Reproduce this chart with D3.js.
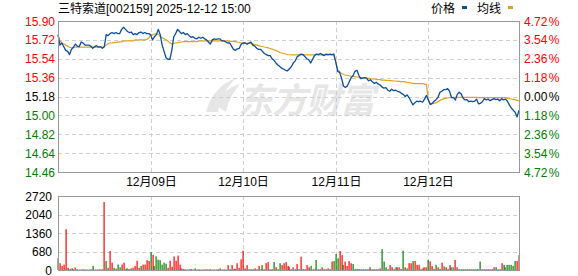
<!DOCTYPE html>
<html>
<head>
<meta charset="utf-8">
<script src="https://cdn.jsdelivr.net/npm/d3@7"></script>
<style>
  html, body { margin: 0; padding: 0; background: #fff; }
  svg { display: block; }
</style>
</head>
<body>
<div id="chart"></div>
<script>
// 三特索道 五日分时图：价格 + 均线 + 成交量
const TITLE = "三特索道[002159] 2025-12-12 15:00";
const DAYS = ["12月08日", "12月09日", "12月10日", "12月11日", "12月12日"];
const PRE_CLOSE = 15.18;
const PRICE_TICKS = [15.90, 15.72, 15.54, 15.36, 15.18, 15.00, 14.82, 14.64, 14.46];
const PCT_TICKS = ["4.72", "3.54", "2.36", "1.18", "0.00", "1.18", "2.36", "3.54", "4.72"];
const VOL_TICKS = [2720, 2040, 1360, 680, 0];

// 每日 48 个采样点（约 5 分钟一个）
const PRICE_1208 = [15.77,15.67,15.69,15.655,15.62,15.61,15.58,15.63,15.65,15.68,15.66,15.655,15.70,15.69,15.67,15.67,15.67,15.66,15.64,15.655,15.665,15.65,15.655,15.64,15.655,15.77,15.76,15.78,15.79,15.78,15.79,15.78,15.78,15.82,15.84,15.82,15.80,15.79,15.795,15.77,15.78,15.77,15.79,15.795,15.78,15.79,15.78,15.78];
const PRICE_1209 = [15.77,15.72,15.75,15.77,15.82,15.77,15.67,15.61,15.55,15.535,15.535,15.62,15.75,15.78,15.82,15.80,15.78,15.79,15.77,15.78,15.76,15.745,15.75,15.735,15.73,15.745,15.735,15.745,15.73,15.72,15.70,15.68,15.72,15.73,15.725,15.73,15.73,15.71,15.71,15.70,15.69,15.69,15.66,15.63,15.62,15.635,15.64,15.68];
const PRICE_1210 = [15.69,15.69,15.68,15.69,15.70,15.67,15.66,15.64,15.63,15.63,15.61,15.59,15.58,15.57,15.57,15.54,15.525,15.50,15.48,15.465,15.45,15.44,15.43,15.425,15.445,15.465,15.50,15.52,15.56,15.57,15.585,15.58,15.56,15.54,15.53,15.50,15.535,15.57,15.585,15.58,15.59,15.58,15.57,15.585,15.58,15.585,15.58,15.585];
const PRICE_1211 = [15.51,15.42,15.41,15.355,15.28,15.265,15.28,15.32,15.36,15.38,15.42,15.43,15.38,15.35,15.355,15.36,15.355,15.33,15.34,15.32,15.305,15.315,15.30,15.29,15.27,15.26,15.265,15.24,15.23,15.25,15.235,15.24,15.23,15.225,15.21,15.20,15.18,15.195,15.17,15.135,15.10,15.12,15.135,15.13,15.135,15.125,15.155,15.19];
const PRICE_1212 = [15.147,15.105,15.115,15.135,15.15,15.17,15.22,15.23,15.245,15.245,15.255,15.23,15.17,15.17,15.147,15.20,15.22,15.205,15.165,15.147,15.15,15.13,15.135,15.13,15.135,15.155,15.11,15.115,15.13,15.16,15.147,15.155,15.14,15.15,15.16,15.15,15.155,15.14,15.16,15.147,15.155,15.135,15.10,15.07,15.05,15.03,14.985,15.05];

const AVG_1208 = [15.77,15.71,15.69,15.68,15.67,15.66,15.65,15.645,15.645,15.65,15.65,15.65,15.65,15.65,15.65,15.65,15.65,15.65,15.65,15.65,15.65,15.65,15.652,15.652,15.655,15.67,15.685,15.69,15.692,15.694,15.696,15.698,15.70,15.70,15.71,15.71,15.71,15.71,15.71,15.71,15.72,15.72,15.72,15.72,15.72,15.72,15.725,15.735];
const AVG_1209 = [15.77,15.766,15.776,15.78,15.776,15.75,15.74,15.73,15.72,15.706,15.693,15.68,15.687,15.69,15.693,15.697,15.70,15.703,15.703,15.703,15.703,15.703,15.703,15.703,15.703,15.71,15.71,15.71,15.71,15.71,15.71,15.71,15.71,15.71,15.71,15.71,15.71,15.71,15.71,15.71,15.71,15.705,15.705,15.705,15.703,15.70,15.695,15.69];
const AVG_1210 = [15.69,15.69,15.69,15.688,15.685,15.68,15.675,15.67,15.665,15.66,15.657,15.652,15.648,15.643,15.638,15.632,15.625,15.62,15.61,15.60,15.595,15.59,15.585,15.58,15.578,15.577,15.577,15.577,15.577,15.577,15.577,15.577,15.577,15.577,15.577,15.577,15.577,15.577,15.577,15.577,15.577,15.577,15.577,15.577,15.577,15.577,15.577,15.577];
const AVG_1211 = [15.51,15.433,15.417,15.40,15.39,15.385,15.382,15.378,15.375,15.373,15.369,15.366,15.363,15.36,15.36,15.357,15.353,15.353,15.35,15.347,15.347,15.344,15.341,15.341,15.337,15.337,15.334,15.334,15.331,15.331,15.328,15.328,15.325,15.325,15.322,15.322,15.319,15.315,15.312,15.309,15.306,15.303,15.303,15.303,15.303,15.303,15.298,15.296];
const AVG_1212 = [15.147,15.105,15.112,15.115,15.121,15.131,15.143,15.15,15.159,15.162,15.166,15.169,15.172,15.172,15.172,15.172,15.172,15.172,15.172,15.172,15.172,15.172,15.172,15.172,15.172,15.172,15.17,15.17,15.17,15.17,15.17,15.17,15.17,15.169,15.169,15.169,15.169,15.169,15.169,15.169,15.169,15.162,15.159,15.156,15.153,15.15,15.143,15.137];

const VOL_1208 = [430,250,150,200,1500,80,40,60,30,90,30,20,20,30,20,20,20,30,150,20,20,20,20,30,2500,330,80,700,270,80,50,200,100,200,270,40,60,40,60,80,150,340,80,150,200,200,360,330];
const VOL_1209 = [660,560,150,500,380,360,200,270,230,80,340,120,500,340,530,200,60,40,30,20,30,40,20,60,20,30,20,20,30,20,20,30,20,20,20,30,60,20,30,20,180,30,180,40,40,250,80,390];
const VOL_1210 = [710,60,180,30,30,30,60,30,150,30,180,30,250,290,30,30,290,100,30,250,180,250,290,150,120,30,100,30,220,30,490,40,30,180,100,150,30,30,370,30,30,100,30,30,60,30,310,330];
const VOL_1211 = [590,430,700,550,190,310,150,330,250,220,40,40,40,30,30,30,30,30,100,30,30,30,30,60,770,310,100,30,180,100,30,100,100,100,40,710,100,60,250,250,330,330,190,190,30,60,100,100];
const VOL_1212 = [370,320,150,40,190,100,40,270,130,100,40,180,100,100,370,100,30,30,30,30,30,30,30,30,30,30,30,310,30,30,30,30,30,30,100,100,30,30,250,190,100,190,190,190,150,330,330,550];
// 成交量柱颜色：r 红（涨）g 绿（跌）
const VOL_DIR_1208 = "grrrrrrgrr" + "grrgrrgrgr" + "rrrrrgrrrg" + "rggrrrgrrr" + "rrrgrrrr";
const VOL_DIR_1209 = "grgggggggr" + "rrrrrrrrrg" + "rrrgrrrgrr" + "rgrrrrgrrg" + "rrrrrrrr";
const VOL_DIR_1210 = "rrrrrrrrrr" + "grrrrrgrrg" + "rrrrrrrrrr" + "rrrrrgrrgr" + "rrrrrrrg";
const VOL_DIR_1211 = "ggrrgrrrrg" + "rrrrrrrrgr" + "rrrrgggrrr" + "rrgrrgrgrr" + "grrrrrrr";
const VOL_DIR_1212 = "grrrgrrrgr" + "rrggrrrrrr" + "rrrrrrrgrr" + "rrrrrgrrrg" + "ggggggrr";

(() => {
  const W = 578, H = 276;
  const ML = 58, MR = 519, TOP = 21, BOT = 172, VTOP = 196, VBOT = 270;
  const FONT = "Arial, 'Liberation Sans', 'Noto Sans CJK SC', sans-serif";
  const C = { blue: "#0a4ea0", gold: "#e0a21c", red: "#ff0000", green: "#008000",
    frame: "#999", grid: "#cfcfcf", ink: "#000", mark: "#e6e6e6" };

  const price = [].concat(PRICE_1208, PRICE_1209, PRICE_1210, PRICE_1211, PRICE_1212);
  const avg = [].concat(AVG_1208, AVG_1209, AVG_1210, AVG_1211, AVG_1212);
  const vol = [].concat(VOL_1208, VOL_1209, VOL_1210, VOL_1211, VOL_1212);
  const dir = VOL_DIR_1208 + VOL_DIR_1209 + VOL_DIR_1210 + VOL_DIR_1211 + VOL_DIR_1212;
  const per = PRICE_1208.length;

  const x = d3.scaleLinear().domain([0, price.length - 1]).range([ML, MR]);
  const y = d3.scaleLinear().domain([d3.min(PRICE_TICKS), d3.max(PRICE_TICKS)]).range([BOT, TOP]);
  const yv = d3.scaleLinear().domain([0, d3.max(VOL_TICKS)]).range([VBOT, VTOP]);
  const px = v => Math.round(v) + 0.5;

  const svg = d3.select("#chart").append("svg")
    .attr("width", W).attr("height", H)
    .attr("viewBox", `0 0 ${W} ${H}`);

  // 水印
  const wm = svg.append("g").attr("fill", C.mark);
  wm.append("path")
    .attr("d", "M206,112 C210,96 220,84 236,78 C226,88 220,98 218,112 Z M214,104 C222,92 232,86 240,84 C232,94 228,102 226,112 Z");
  wm.append("text").attr("x", 238).attr("y", 113)
    .attr("style", `font:bold 35px 'Noto Sans CJK SC', sans-serif;font-style:italic;letter-spacing:-1px`)
    .text("东方财富");

  // 标题与图例
  svg.append("text").attr("x", ML).attr("y", 13)
    .attr("style", `font:12px ${FONT};fill:${C.ink}`)
    .text(TITLE);
  const lg = svg.append("g").attr("style", `font:12px ${FONT};fill:${C.ink}`);
  lg.append("text").attr("x", 431).attr("y", 13).text("价格");
  lg.append("rect").attr("x", 462).attr("y", 6).attr("width", 5).attr("height", 3).attr("fill", C.blue);
  lg.append("text").attr("x", 477).attr("y", 13).text("均线");
  lg.append("rect").attr("x", 508).attr("y", 6).attr("width", 5).attr("height", 3).attr("fill", C.gold);

  // 价格网格
  PRICE_TICKS.forEach((v, i) => {
    const yy = px(y(v));
    if (i > 0 && i < PRICE_TICKS.length - 1) {
      svg.append("line").attr("x1", ML).attr("x2", MR).attr("y1", yy).attr("y2", yy)
        .attr("stroke", C.grid).attr("stroke-dasharray", "4 3");
    }
    const col = v > PRE_CLOSE + 1e-6 ? C.red : v < PRE_CLOSE - 1e-6 ? C.green : C.ink;
    svg.append("text").attr("x", ML - 3).attr("y", y(v) + 4.5)
      .attr("text-anchor", "end")
      .attr("style", `font:12px ${FONT};fill:${col}`)
      .text(v.toFixed(2));
    const t = svg.append("text").attr("x", MR + 5).attr("y", y(v) + 4.5)
      .attr("style", `font:12px ${FONT};fill:${col}`);
    t.append("tspan").text(PCT_TICKS[i]);
    t.append("tspan").attr("dx", 1.5).text("%");
  });

  // 日分隔线 + 日期
  DAYS.forEach((d, i) => {
    const xx = px(x(i * per));
    if (i > 0) {
      svg.append("line").attr("x1", xx).attr("x2", xx).attr("y1", TOP).attr("y2", BOT)
        .attr("stroke", C.grid).attr("stroke-dasharray", "4 3");
      svg.append("line").attr("x1", xx).attr("x2", xx).attr("y1", VTOP).attr("y2", VBOT)
        .attr("stroke", C.grid).attr("stroke-dasharray", "4 3");
      svg.append("text").attr("x", xx).attr("y", 186)
        .attr("text-anchor", "middle")
        .attr("style", `font:12px ${FONT};fill:${C.ink}`)
        .text(d);
    }
  });

  // 成交量网格
  VOL_TICKS.forEach((v, i) => {
    const yy = px(yv(v));
    if (i > 0 && i < VOL_TICKS.length - 1) {
      svg.append("line").attr("x1", ML).attr("x2", MR).attr("y1", yy).attr("y2", yy)
        .attr("stroke", C.grid).attr("stroke-dasharray", "4 3");
    }
    svg.append("text").attr("x", ML - 6).attr("y", yv(v) + 4.5)
      .attr("text-anchor", "end")
      .attr("style", `font:12px ${FONT};fill:${C.ink}`)
      .text(v);
  });

  // 成交量柱
  svg.append("g").selectAll("rect").data(vol).join("rect")
    .attr("x", (d, i) => Math.round(x(i)) - 0.5)
    .attr("width", 1.2)
    .attr("y", d => yv(d))
    .attr("height", d => VBOT - yv(d))
    .attr("fill", (d, i) => dir[i] === "g" ? C.green : C.red);

  // 均线 + 价格线
  const line = d3.line().x((d, i) => x(i)).y(d => y(d));
  svg.append("path").attr("d", line(avg))
    .attr("fill", "none").attr("stroke", C.gold).attr("stroke-width", 1.2);
  svg.append("path").attr("d", line(price))
    .attr("fill", "none").attr("stroke", C.blue).attr("stroke-width", 1.3)
    .attr("stroke-linejoin", "round");

  // 外框
  [[TOP, BOT], [VTOP, VBOT]].forEach(([t, b]) => {
    svg.append("rect").attr("x", ML + 0.5).attr("y", t + 0.5)
      .attr("width", MR - ML).attr("height", b - t)
      .attr("fill", "none").attr("stroke", C.frame);
  });
})();
</script>
</body>
</html>
